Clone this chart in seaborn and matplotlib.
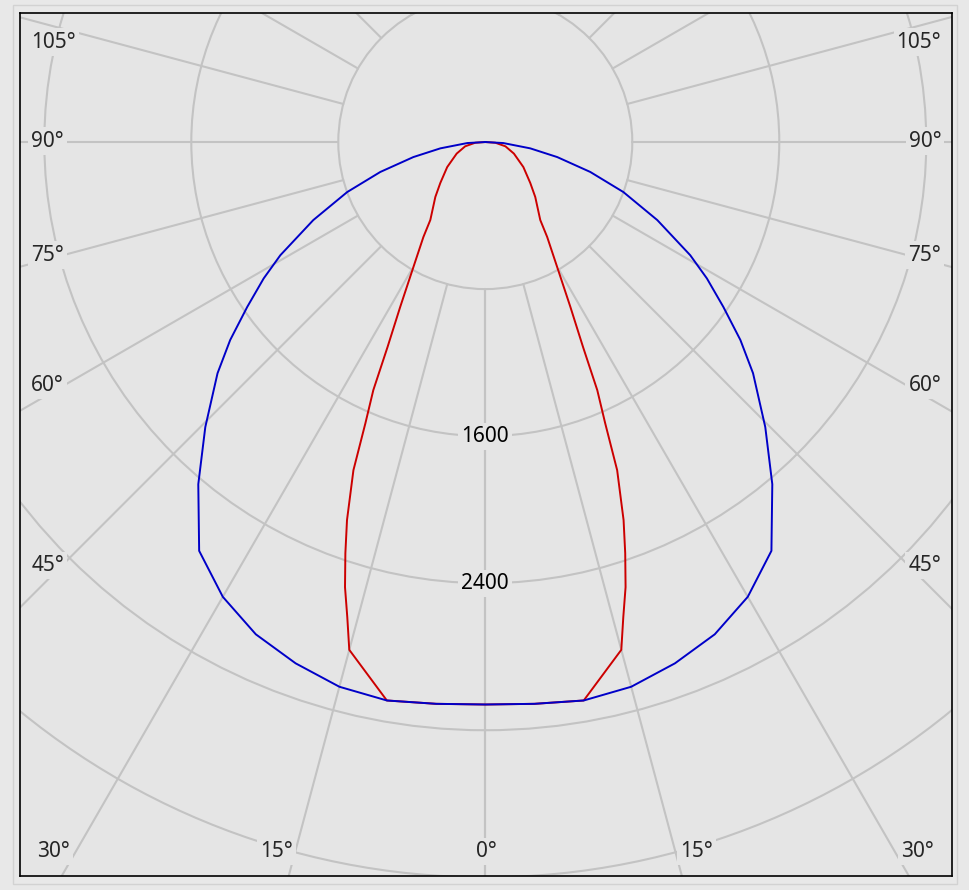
import matplotlib
matplotlib.use("Agg")
import matplotlib.pyplot as plt
from matplotlib.patches import Circle, Rectangle
import numpy as np
import pandas as pd
import seaborn as sns

# luminous intensity (cd) per angle, C0-C180 plane (blue), symmetric about 0
blue_angle = [0, 5, 10, 15, 20, 25, 30, 35, 40, 44.5, 49.2, 52.2, 55.3, 58.4, 61.1,
              65.6, 70.1, 74.1, 78.2, 82, 86.8, 90]
blue_cd = [3060, 3068, 3085, 3068, 3018, 2955, 2857, 2715, 2430, 2174, 1925, 1757,
           1576, 1416, 1274, 1028, 799, 594, 400, 247, 98, 0]

# C90-C270 plane (red)
red_angle = [0, 5, 10, 15, 16.2, 17.5, 18.8, 20.1, 21.9, 23.1, 24.3, 25.5, 27.3,
             29.9, 33.1, 35.2, 42.3, 47.7, 56.7, 68, 78, 86, 90]
red_cd = [3060, 3068, 3085, 2860, 2692, 2539, 2363, 2190, 1924, 1663, 1481, 1236,
          1010, 785, 617, 519, 404, 331, 248, 168, 112, 55, 0]

ring_values = [800, 1600, 2400, 3200, 4000, 4800]
ring_labels = [1600, 2400]
ray_angles = list(range(0, 181, 15))

angle_labels_left = ["105°", "90°", "75°", "60°", "45°"]
angle_labels_bottom = ["30°", "15°", "0°", "15°", "30°"]

sns.set_style("white")
plt.rcParams['font.family'] = ['Noto Sans', 'DejaVu Sans']

BG = '#e5e5e5'
GRID = '#c3c3c3'


def to_xy(angle, cd):
    a = np.deg2rad(np.asarray(angle, dtype=float))
    cd = np.asarray(cd, dtype=float)
    return cd * np.sin(a), -cd * np.cos(a)


def mirrored(angle, cd):
    ang = np.concatenate([-np.asarray(angle[::-1], dtype=float), np.asarray(angle[1:], dtype=float)])
    val = np.concatenate([np.asarray(cd[::-1], dtype=float), np.asarray(cd[1:], dtype=float)])
    x, y = to_xy(ang, val)
    return pd.DataFrame({'x': x, 'y': y})


# pixel -> data helper for text placement (centre at px 485,142; 1 px = 5.442 cd)
PX = 5.442
def px2data(px, py):
    return (px - 485) * PX, (142 - py) * PX


fig = plt.figure(figsize=(9.69, 8.9), dpi=100, facecolor='#e8e8e8')
ax = fig.add_axes([19.5 / 969, 14 / 890, 932.5 / 969, 863 / 890])
ax.set_facecolor(BG)

# grid rings
for r in ring_values:
    ax.add_patch(Circle((0, 0), r, fill=False, edgecolor=GRID, lw=1.5, zorder=1))

# rays (start at the first ring)
for a in ray_angles:
    for s in (-1, 1):
        x, y = to_xy([s * a, s * a], [800, 7000])
        ax.plot(x, y, color=GRID, lw=1.5, zorder=1)

red_df = mirrored(red_angle, red_cd)
blue_df = mirrored(blue_angle, blue_cd)
sns.lineplot(data=red_df, x='x', y='y', sort=False, estimator=None, color='#cc0000',
             lw=1.4, ax=ax, zorder=3)
sns.lineplot(data=blue_df, x='x', y='y', sort=False, estimator=None, color='#0000c8',
             lw=1.4, ax=ax, zorder=4)

box = dict(boxstyle='square,pad=0.15', facecolor=BG, edgecolor='none')
fs = 15

for v in ring_labels:
    ax.text(0, -v, str(v), ha='center', va='center', fontsize=fs, color='black',
            bbox=box, zorder=2)

side_y = [42, 141, 255, 385, 565]
for lab, py in zip(angle_labels_left, side_y):
    x, y = px2data(31, py)
    ax.text(x, y, lab, ha='left', va='center', fontsize=fs, bbox=box, zorder=2)
    x, y = px2data(941, py)
    ax.text(x, y, lab, ha='right', va='center', fontsize=fs, bbox=box, zorder=2)

bottom_x = [53, 276, 486, 696, 917]
for lab, px in zip(angle_labels_bottom, bottom_x):
    x, y = px2data(px, 851)
    ax.text(x, y, lab, ha='center', va='center', fontsize=fs, bbox=box, zorder=2)

ax.set_xlim(-2535, 2540)
ax.set_ylim(-3993, 702)
ax.set_xticks([])
ax.set_yticks([])
ax.set_xlabel('')
ax.set_ylabel('')
for sp in ax.spines.values():
    sp.set_visible(True)
    sp.set_color('black')
    sp.set_linewidth(1.2)

fig.patches.append(Rectangle((13 / 969, 1 - 884 / 890), 944 / 969, 879 / 890,
                             transform=fig.transFigure, fill=False,
                             edgecolor='#d2d2d2', lw=1))

fig.savefig('out.png', dpi=100, facecolor=fig.get_facecolor())
